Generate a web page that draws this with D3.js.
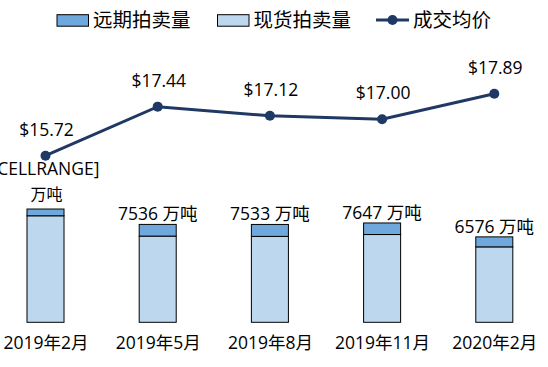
<!DOCTYPE html>
<html lang="zh">
<head>
  <meta charset="UTF-8">
  <title>拍卖量与成交均价</title>
  <script src="https://d3js.org/d3.v7.min.js"></script>
  <style>
    body, html { margin: 0; padding: 0; background: #fff; overflow: hidden; }
    svg { display: block; }
    .lbl { font-family: 'Open Sans', 'Noto Sans CJK SC', sans-serif; fill: #000; }
    .leg { font-family: 'Noto Sans CJK SC', sans-serif; fill: #000; }
  </style>
</head>
<body>
  <svg width="548" height="367"></svg>
  <script>
    // data
    const periods  = ["2019年2月", "2019年5月", "2019年8月", "2019年11月", "2020年2月"];
    const forward  = [520, 900, 920, 890, 770];     // 远期拍卖量 (万吨)
    const spot     = [8200, 6636, 6613, 6757, 5806]; // 现货拍卖量 (万吨)
    const totalLbl = ["[CELLRANGE]", "7536", "7533", "7647", "6576"];
    const price    = [15.72, 17.44, 17.12, 17.00, 17.89];

    const svg = d3.select("svg");
    const navy = "#1f3864", cForward = "#6fa8dc", cSpot = "#bdd7ee";

    const x = d3.scalePoint().domain(periods).range([-10.6, 550.4]).padding(0.5);
    const barW = x.step() * 0.33;
    const yVol = d3.scaleLinear().domain([0, 10000]).range([322.3, 192.4]);
    const yPrice = d3.scaleLinear().domain([14, 19]).range([204.7, 62.2]);

    // bars
    const bars = svg.append("g");
    periods.forEach((p, i) => {
      const cx = x(p);
      bars.append("rect")
        .attr("x", cx - barW / 2).attr("width", barW)
        .attr("y", yVol(spot[i])).attr("height", yVol(0) - yVol(spot[i]))
        .attr("fill", cSpot).attr("stroke", "#000").attr("stroke-width", 1);
      bars.append("rect")
        .attr("x", cx - barW / 2).attr("width", barW)
        .attr("y", yVol(spot[i] + forward[i])).attr("height", yVol(spot[i]) - yVol(spot[i] + forward[i]))
        .attr("fill", cForward).attr("stroke", "#000").attr("stroke-width", 1);
    });

    // bar labels
    periods.forEach((p, i) => {
      const top = yVol(spot[i] + forward[i]);
      if (i === 0) {
        svg.append("text").attr("class", "lbl").attr("x", x(p)).attr("y", top - 34)
          .attr("text-anchor", "middle").attr("font-size", 17.5).text(totalLbl[i]);
        svg.append("text").attr("class", "lbl").attr("x", x(p) + 1).attr("y", top - 9)
          .attr("text-anchor", "middle").attr("font-size", 16).text("万吨");
      } else {
        svg.append("text").attr("class", "lbl").attr("x", x(p)).attr("y", top - 4)
          .attr("text-anchor", "middle").attr("font-size", 17.5).text(totalLbl[i] + " 万吨");
      }
    });

    // price line
    const line = d3.line().x((d, i) => x(periods[i])).y(d => yPrice(d));
    svg.append("path").datum(price).attr("d", line)
      .attr("fill", "none").attr("stroke", navy).attr("stroke-width", 3);
    svg.selectAll("circle.pt").data(price).enter().append("circle")
      .attr("class", "pt")
      .attr("cx", (d, i) => x(periods[i])).attr("cy", d => yPrice(d))
      .attr("r", 5).attr("fill", navy);
    svg.selectAll("text.price").data(price).enter().append("text")
      .attr("class", "lbl price")
      .attr("x", (d, i) => x(periods[i]) + 1).attr("y", d => yPrice(d) - 20)
      .attr("text-anchor", "middle").attr("font-size", 17.5)
      .text(d => "$" + d.toFixed(2));

    // x axis labels
    const xAxis = d3.axisBottom(x).tickSize(0).tickPadding(0);
    const gx = svg.append("g").attr("transform", "translate(0,337)").call(xAxis);
    gx.select(".domain").remove();
    gx.selectAll("text").attr("class", "lbl").attr("font-size", 17.5).attr("dy", "0.71em")
      .style("font-family", "'Open Sans', 'Noto Sans CJK SC', sans-serif").attr("fill", "#000");

    // legend
    const leg = svg.append("g");
    const legItems = [
      { name: "远期拍卖量", type: "rect", color: cForward, x: 57 },
      { name: "现货拍卖量", type: "rect", color: cSpot, x: 217.5 },
      { name: "成交均价", type: "line", color: navy, x: 376 }
    ];
    legItems.forEach(it => {
      if (it.type === "rect") {
        leg.append("rect").attr("x", it.x).attr("y", 14.7).attr("width", 31.5).attr("height", 11.5)
          .attr("fill", it.color).attr("stroke", "#000").attr("stroke-width", 1);
      } else {
        leg.append("line").attr("x1", it.x).attr("x2", it.x + 33).attr("y1", 20).attr("y2", 20)
          .attr("stroke", it.color).attr("stroke-width", 3);
        leg.append("circle").attr("cx", it.x + 16.5).attr("cy", 20).attr("r", 5).attr("fill", it.color);
      }
      leg.append("text").attr("class", "leg").attr("x", it.x + (it.type === "rect" ? 36 : 37))
        .attr("y", 27).attr("font-size", 19.5).text(it.name);
    });
  </script>
</body>
</html>
